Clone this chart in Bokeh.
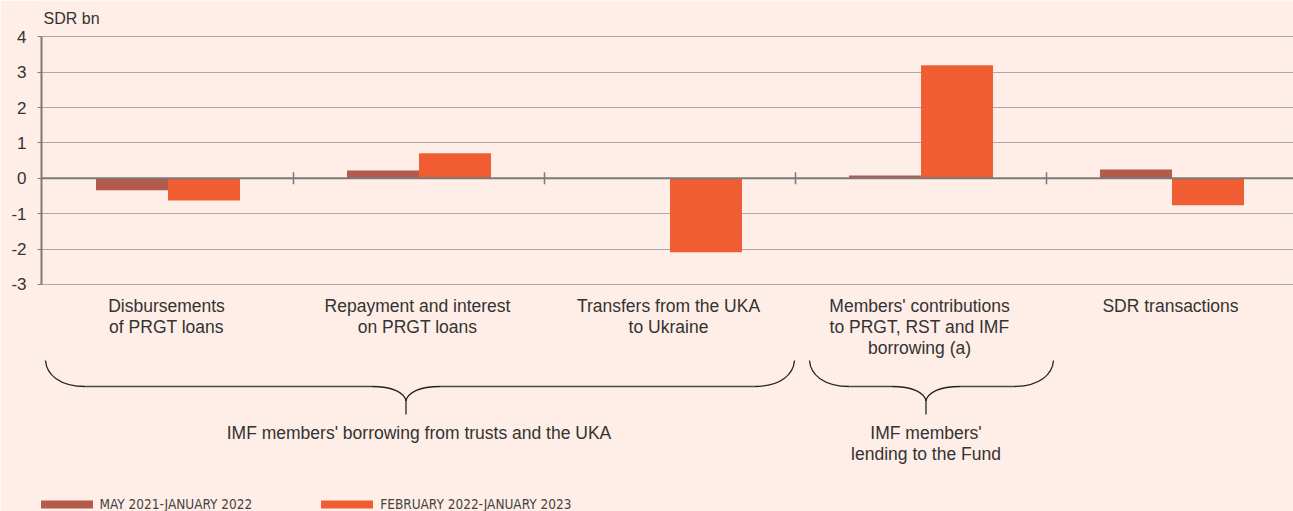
import numpy as np
from bokeh.plotting import figure
from bokeh.models import (LinearAxis, FixedTicker, Grid, Span, Range1d,
                          Legend, LegendItem)
from bokeh.core.properties import value
from bokeh.embed import file_html
from bokeh.resources import INLINE

# ---------------- data ----------------
categories = [
    ["Disbursements", "of PRGT loans"],
    ["Repayment and interest", "on PRGT loans"],
    ["Transfers from the UKA", "to Ukraine"],
    ["Members' contributions", "to PRGT, RST and IMF", "borrowing (a)"],
    ["SDR transactions"],
]
may21_jan22 = [-0.34, 0.22, 0.0, 0.08, 0.25]
feb22_jan23 = [-0.63, 0.71, -2.09, 3.20, -0.76]
series_names = ["MAY 2021-JANUARY 2022", "FEBRUARY 2022-JANUARY 2023"]
y_ticks = [-3, -2, -1, 0, 1, 2, 3, 4]
y_tick_labels = ["-3", "-2", "-1", "0", "1", "2", "3", "4"]
y_unit = "SDR bn"
group_labels = [
    ["IMF members' borrowing from trusts and the UKA"],
    ["IMF members'", "lending to the Fund"],
]

# ---------------- styling / layout ----------------
BG = "#FEEEE7"
C1 = "#B35A4A"
C2 = "#F15D33"
TXT = "#333333"
AX = "#7A7A7A"
FONT = "Liberation Sans"

W, H = 1293, 511
FL = 41            # frame left (px)
PXU = 251.0        # px per category
PYU = 35.35        # px per y unit
ZERO_REF = 177.8   # page y of value 0

x_start = -(167.5 - FL) / PXU
x_range = Range1d(x_start, x_start + (W - FL) / PXU)
y_range = Range1d(-(H - ZERO_REF) / PYU, ZERO_REF / PYU)


def dx(X):
    return x_start + (X - FL) / PXU


def dy(Y):
    return (ZERO_REF - Y) / PYU


p = figure(width=W, height=H, x_range=x_range, y_range=y_range,
           output_backend="svg", toolbar_location=None,
           x_axis_type=None, y_axis_type=None,
           min_border_left=FL, min_border_right=0,
           min_border_top=0, min_border_bottom=0,
           background_fill_color=BG, border_fill_color=BG,
           outline_line_color=None)

# grid
grid = Grid(dimension=1, ticker=FixedTicker(ticks=y_ticks),
            grid_line_color="#A9A9A9", grid_line_width=1)
p.add_layout(grid)

# y axis
yaxis = LinearAxis(ticker=FixedTicker(ticks=y_ticks), bounds=(min(y_ticks), max(y_ticks)),
                   axis_line_color=AX, axis_line_width=2,
                   major_tick_out=4, major_tick_in=0, major_tick_line_color=AX,
                   minor_tick_line_color=None, major_label_standoff=11,
                   major_label_overrides=dict(zip(y_ticks, y_tick_labels)),
                   major_label_text_font=FONT, major_label_text_font_size="17px",
                   major_label_text_color=TXT)
p.add_layout(yaxis, "left")

# bars
idx = np.arange(len(categories))
bw = 72 / PXU
r1 = p.vbar(x=idx - bw / 2, top=may21_jan22, bottom=0, width=bw,
            fill_color=C1, line_color=None)
r2 = p.vbar(x=idx + bw / 2, top=feb22_jan23, bottom=0, width=bw,
            fill_color=C2, line_color=None)

# zero line and category separators
p.add_layout(Span(location=0, dimension="width", line_color=AX, line_width=2))
seps = idx[:-1] + 0.5
p.segment(x0=seps, y0=-6 / PYU, x1=seps, y1=6 / PYU, line_color=AX, line_width=1.5)

# category labels
xs, ys, ts = [], [], []
for i, lines in enumerate(categories):
    for k, t in enumerate(lines):
        xs.append(float(i) - 1.5 / PXU)
        ys.append(dy(305.3 + 21 * k))
        ts.append(t)
p.text(x=xs, y=ys, text=ts, text_align="center", text_baseline="alphabetic",
       text_font=value(FONT), text_font_size="17.5px", text_color=TXT)

# unit label
p.text(x=[dx(43)], y=[dy(18)], text=[y_unit], text_align="left",
       text_baseline="alphabetic", text_font=value(FONT),
       text_font_size="16px", text_color=TXT)


# braces
def brace(L, R, T, top=360, mid=386, cusp=401, end=414):
    bx0, by0, bx1, by1, c0x, c0y, c1x, c1y = [], [], [], [], [], [], [], []

    def bz(a, b, c, d):
        bx0.append(dx(a[0])); by0.append(dy(a[1]))
        bx1.append(dx(b[0])); by1.append(dy(b[1]))
        c0x.append(dx(c[0])); c0y.append(dy(c[1]))
        c1x.append(dx(d[0])); c1y.append(dy(d[1]))

    bz((L, top), (L + 40, mid), (L + 1, mid - 12), (L + 14, mid))
    bz((T - 34, mid), (T, cusp), (T - 14, mid), (T - 1, mid + 6))
    bz((T + 34, mid), (T, cusp), (T + 14, mid), (T + 1, mid + 6))
    bz((R, top), (R - 40, mid), (R - 1, mid - 12), (R - 14, mid))
    p.bezier(x0=bx0, y0=by0, x1=bx1, y1=by1, cx0=c0x, cy0=c0y, cx1=c1x, cy1=c1y,
             line_color="#222222", line_width=1.3)
    p.segment(x0=[dx(L + 40), dx(T + 34), dx(T)],
              y0=[dy(mid), dy(mid), dy(cusp)],
              x1=[dx(T - 34), dx(R - 40), dx(T)],
              y1=[dy(mid), dy(mid), dy(end)],
              line_color="#4A4A4A", line_width=1.6)


brace(45, 794, 405.5)
brace(809, 1053, 925.5)

gx, gy, gt = [], [], []
for centre, lines in zip([418.5, 925.5], group_labels):
    for k, t in enumerate(lines):
        gx.append(dx(centre))
        gy.append(dy(432 + 21 * k))
        gt.append(t)
p.text(x=gx, y=gy, text=gt, text_align="center", text_baseline="alphabetic",
       text_font=value(FONT), text_font_size="17.5px", text_color=TXT)

# legend (Bokeh insets area legend glyphs by 10% on each side)
legend = Legend(items=[LegendItem(label=series_names[0], renderers=[r1]),
                       LegendItem(label=series_names[1], renderers=[r2])],
                orientation="horizontal", location=(-7.5, -1),
                glyph_width=65, glyph_height=10, label_standoff=1, spacing=62,
                padding=0, margin=0, border_line_color=None,
                background_fill_alpha=0,
                label_text_font="'DejaVu Sans Condensed', 'Liberation Sans'",
                label_text_font_size="13.5px", label_text_color="#444444",
                label_height=14)
p.add_layout(legend)

html = file_html(p, INLINE)
open("out.html", "w").write(html)
